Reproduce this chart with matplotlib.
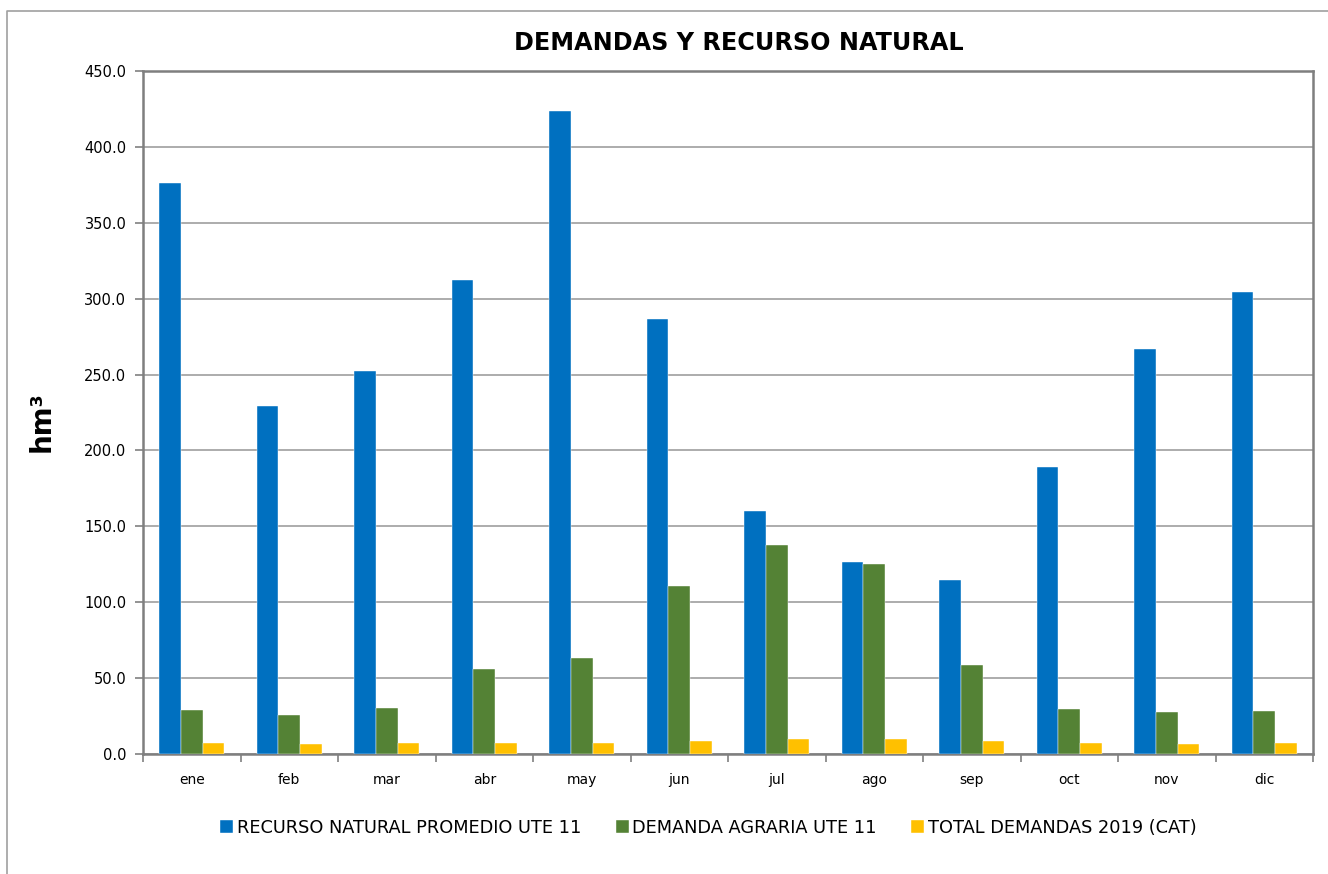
import numpy as np
import matplotlib
matplotlib.use('Agg')
import matplotlib.pyplot as plt
from matplotlib.lines import Line2D

# --- data (hm3) ---
months = ['ene', 'feb', 'mar', 'abr', 'may', 'jun', 'jul', 'ago', 'sep', 'oct', 'nov', 'dic']
recurso_natural = [376.3, 229.6, 252.6, 312.5, 423.7, 286.8, 159.9, 126.3, 114.5, 188.8, 267.0, 304.6]
demanda_agraria = [28.7, 26.0, 30.5, 55.9, 63.4, 110.5, 138.0, 125.0, 58.6, 29.6, 27.8, 28.5]
total_demandas = [7.0, 6.3, 7.2, 7.2, 7.4, 8.3, 10.1, 10.1, 8.3, 7.2, 6.6, 7.0]

labels = ['RECURSO NATURAL PROMEDIO UTE 11', 'DEMANDA AGRARIA UTE 11', 'TOTAL DEMANDAS 2019 (CAT)']
colors = ['#0070C0', '#548235', '#FFC000']

W, H = 1328, 874
fig = plt.figure(figsize=(W / 100, H / 100), dpi=100)
ax = fig.add_axes([143 / W, 1 - 754 / H, (1313 - 143) / W, (754 - 71) / H])

x = np.arange(len(months))
bw = 0.222
for i, (vals, c, lab) in enumerate(zip([recurso_natural, demanda_agraria, total_demandas], colors, labels)):
    ax.bar(x + (i - 1) * bw, vals, width=bw, color=c, label=lab, zorder=3,
           edgecolor='white', linewidth=0.3)

ax.set_xlim(-0.5, len(months) - 0.5)
ax.set_ylim(0, 450)
ax.set_yticks(np.arange(0, 451, 50))
ax.yaxis.set_major_formatter(plt.FuncFormatter(lambda v, _: f'{v:.1f}'))
ax.grid(axis='y', color='#a6a6a6', linewidth=1.3, zorder=0)

# category boundaries as ticks, labels at centres
ax.set_xticks(np.arange(-0.5, len(months), 1.0))
ax.set_xticklabels([])
ax.set_xticks(x, minor=True)
ax.set_xticklabels(months, minor=True, fontsize=10)
ax.tick_params(axis='x', which='minor', length=0, pad=14)
ax.tick_params(axis='x', which='major', length=6, color='#808080', width=1.2)
ax.tick_params(axis='y', length=6, color='#808080', width=1.2, labelsize=10.5, pad=6)

for s in ax.spines.values():
    s.set_color('#7f7f7f')
    s.set_linewidth(1.8)

fig.text(42 / W, 1 - 422 / H, 'hm³', rotation=90, ha='center', va='center',
         fontsize=20, fontweight='bold')
fig.text(739 / W, 1 - 43 / H, 'DEMANDAS Y RECURSO NATURAL', ha='center', va='center',
         fontsize=17.2, fontweight='bold')

fig.legend(loc='center left', bbox_to_anchor=(220 / W, 1 - 828 / H), ncol=3, frameon=False,
           fontsize=12.8, borderpad=0, borderaxespad=0,
           handlelength=0.73, handleheight=0.73, handletextpad=0.2, columnspacing=1.95)

# outer chart border (left and top visible)
fig.add_artist(Line2D([7 / W, 7 / W, 1.0], [0.0, 1 - 11 / H, 1 - 11 / H],
                      transform=fig.transFigure, color='#a0a0a0', linewidth=1.2))

fig.savefig('out.png', dpi=100)
